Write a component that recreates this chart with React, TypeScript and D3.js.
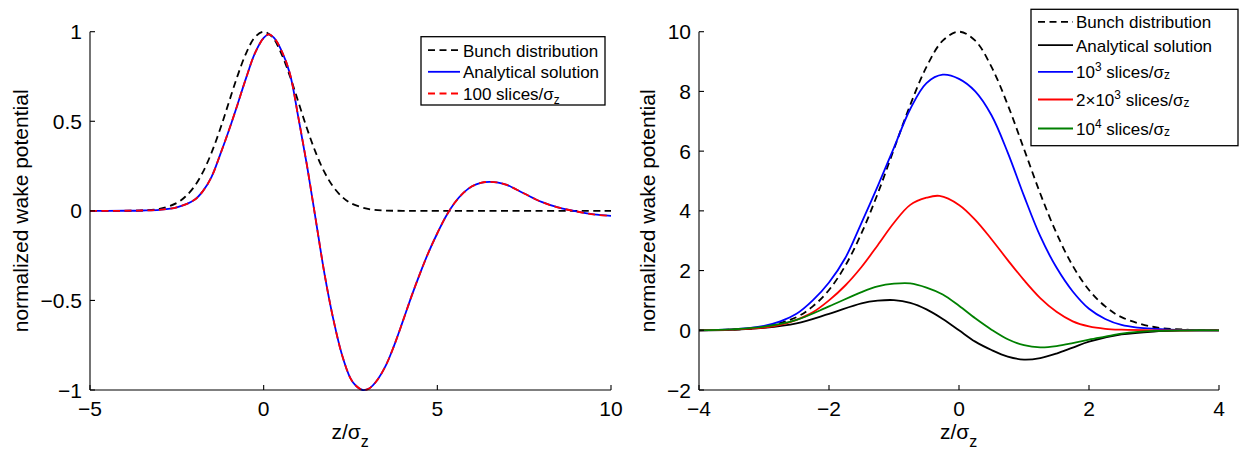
import React from "react";
import * as d3 from "d3";

const FONT = "'Liberation Sans', Arial, Helvetica, sans-serif";

type Pt = [number, number];

// ---- left panel: z/sigma_z from -5 to 10 ----
const leftBunch: Pt[] = [
  [-5, 0], [-4.5, 0], [-4, 0.0003], [-3.5, 0.002], [-3, 0.011], [-2.5, 0.044],
  [-2.25, 0.08], [-2, 0.135], [-1.75, 0.216], [-1.5, 0.325], [-1.25, 0.458],
  [-1, 0.607], [-0.75, 0.755], [-0.5, 0.882], [-0.25, 0.97], [0, 1],
  [0.25, 0.97], [0.5, 0.882], [0.75, 0.755], [1, 0.607], [1.25, 0.458],
  [1.5, 0.325], [1.75, 0.216], [2, 0.135], [2.25, 0.08], [2.5, 0.044],
  [3, 0.011], [3.5, 0.002], [4, 0.0003], [4.5, 0], [10, 0],
];

const leftAnalytical: Pt[] = [
  [-5, 0], [-4.5, 0], [-4, 0.0005], [-3.5, 0.002], [-3, 0.006], [-2.5, 0.02],
  [-2, 0.06], [-1.75, 0.11], [-1.5, 0.19], [-1.25, 0.315], [-1, 0.45],
  [-0.75, 0.595], [-0.5, 0.745], [-0.25, 0.88], [0, 0.965], [0.15, 0.985],
  [0.3, 0.965], [0.5, 0.9], [0.75, 0.77], [1, 0.52], [1.25, 0.25],
  [1.5, -0.05], [1.75, -0.35], [2, -0.6], [2.25, -0.8], [2.5, -0.935],
  [2.65, -0.975], [2.85, -1.0], [3.05, -0.99], [3.25, -0.95], [3.5, -0.87],
  [3.75, -0.755], [4, -0.62], [4.25, -0.48], [4.5, -0.35], [4.75, -0.23],
  [5, -0.125], [5.25, -0.03], [5.5, 0.045], [5.75, 0.1], [6, 0.137],
  [6.25, 0.156], [6.5, 0.162], [6.75, 0.158], [7, 0.145], [7.5, 0.097],
  [8, 0.05], [8.5, 0.018], [9, -0.003], [9.5, -0.02], [10, -0.028],
];

const leftSlices100: Pt[] = [
  [-5, 0], [-4.5, 0], [-4, 0.0005], [-3.5, 0.002], [-3, 0.006], [-2.5, 0.02],
  [-2, 0.06], [-1.75, 0.11], [-1.5, 0.19], [-1.25, 0.315], [-1, 0.45],
  [-0.75, 0.595], [-0.5, 0.745], [-0.25, 0.88], [0, 0.965], [0.15, 0.985],
  [0.3, 0.965], [0.5, 0.9], [0.75, 0.77], [1, 0.52], [1.25, 0.25],
  [1.5, -0.05], [1.75, -0.35], [2, -0.6], [2.25, -0.8], [2.5, -0.935],
  [2.65, -0.975], [2.85, -1.0], [3.05, -0.99], [3.25, -0.95], [3.5, -0.87],
  [3.75, -0.755], [4, -0.62], [4.25, -0.48], [4.5, -0.35], [4.75, -0.23],
  [5, -0.125], [5.25, -0.03], [5.5, 0.045], [5.75, 0.1], [6, 0.137],
  [6.25, 0.156], [6.5, 0.162], [6.75, 0.158], [7, 0.145], [7.5, 0.097],
  [8, 0.05], [8.5, 0.018], [9, -0.003], [9.5, -0.02], [10, -0.028],
];

// ---- right panel: z/sigma_z from -4 to 4 ----
const rightBunch: Pt[] = [
  [-4, 0.003], [-3.5, 0.022], [-3, 0.11], [-2.5, 0.44], [-2.25, 0.8],
  [-2, 1.35], [-1.75, 2.16], [-1.5, 3.25], [-1.25, 4.58], [-1, 6.07],
  [-0.75, 7.55], [-0.5, 8.82], [-0.25, 9.7], [0, 10], [0.25, 9.7],
  [0.5, 8.82], [0.75, 7.55], [1, 6.07], [1.25, 4.58], [1.5, 3.25],
  [1.75, 2.16], [2, 1.35], [2.25, 0.8], [2.5, 0.44], [3, 0.11],
  [3.5, 0.022], [4, 0.003],
];

const rightAnalytical: Pt[] = [
  [-4, 0], [-3.5, 0.015], [-3, 0.08], [-2.5, 0.23], [-2, 0.55], [-1.5, 0.9],
  [-1.25, 0.99], [-1, 1.01], [-0.75, 0.92], [-0.5, 0.7], [-0.25, 0.38],
  [0, 0.0], [0.25, -0.38], [0.5, -0.66], [0.75, -0.88], [1, -0.98],
  [1.25, -0.93], [1.5, -0.78], [1.75, -0.58], [2, -0.38], [2.5, -0.14],
  [3, -0.04], [3.5, -0.01], [4, 0],
];

const rightSlices1e3: Pt[] = [
  [-4, 0], [-3.5, 0.03], [-3, 0.15], [-2.75, 0.3], [-2.5, 0.55], [-2.25, 1.0],
  [-2, 1.6], [-1.75, 2.42], [-1.5, 3.6], [-1.25, 4.83], [-1, 6.12],
  [-0.75, 7.41], [-0.5, 8.28], [-0.25, 8.56], [0, 8.42], [0.25, 8.0],
  [0.5, 7.2], [0.75, 5.95], [1, 4.5], [1.25, 3.15], [1.5, 2.1], [1.75, 1.3],
  [2, 0.72], [2.25, 0.38], [2.5, 0.18], [2.75, 0.09], [3, 0.05], [3.5, 0.01], [4, 0],
];

const rightSlices2e3: Pt[] = [
  [-4, 0], [-3.5, 0.02], [-3, 0.09], [-2.75, 0.18], [-2.5, 0.35], [-2.25, 0.6],
  [-2, 1.0], [-1.75, 1.5], [-1.5, 2.12], [-1.25, 2.85], [-1, 3.6],
  [-0.75, 4.2], [-0.5, 4.44], [-0.3, 4.5], [0, 4.2], [0.25, 3.7], [0.5, 3.05],
  [0.75, 2.35], [1, 1.68], [1.25, 1.08], [1.5, 0.62], [1.75, 0.3], [2, 0.13],
  [2.25, 0.05], [2.5, 0.02], [3, 0], [4, 0],
];

const rightSlices1e4: Pt[] = [
  [-4, 0], [-3.5, 0.03], [-3, 0.12], [-2.5, 0.35], [-2, 0.8], [-1.5, 1.28],
  [-1.25, 1.47], [-1, 1.56], [-0.75, 1.57], [-0.5, 1.43], [-0.25, 1.2],
  [0, 0.82], [0.25, 0.4], [0.5, 0.02], [0.75, -0.3], [1, -0.5], [1.25, -0.57],
  [1.5, -0.53], [1.75, -0.43], [2, -0.31], [2.25, -0.21], [2.5, -0.11],
  [2.75, -0.05], [3, -0.02], [3.5, 0], [4, 0],
];

const leftXTicks = [-5, 0, 5, 10];
const leftYTicks = [-1, -0.5, 0, 0.5, 1];
const rightXTicks = [-4, -2, 0, 2, 4];
const rightYTicks = [-2, 0, 2, 4, 6, 8, 10];

type Part = { t: string; k?: "sup" | "sub" };

const bunchLabel: Part[] = [{ t: "Bunch distribution" }];
const analyticalLabel: Part[] = [{ t: "Analytical solution" }];
const slices100Label: Part[] = [{ t: "100 slices/σ" }, { t: "z", k: "sub" }];
const slices1e3Label: Part[] = [{ t: "10" }, { t: "3", k: "sup" }, { t: " slices/σ" }, { t: "z", k: "sub" }];
const slices2e3Label: Part[] = [{ t: "2×10" }, { t: "3", k: "sup" }, { t: " slices/σ" }, { t: "z", k: "sub" }];
const slices1e4Label: Part[] = [{ t: "10" }, { t: "4", k: "sup" }, { t: " slices/σ" }, { t: "z", k: "sub" }];

type Series = { data: Pt[]; color: string; dash?: string; label: Part[] };

const DASH = "7,4.5";

const fmt = (d: number) => String(d).replace("-", "\u2212");

const RichText = ({ parts, x, y, size, subShift }: { parts: Part[]; x: number; y: number; size: number; subShift: number }) => {
  let shift = 0;
  return (
    <text x={x} y={y} fontSize={size} fontFamily={FONT} fill="#000">
      {parts.map((p, i) => {
        const target = p.k === "sup" ? -7 : p.k === "sub" ? subShift : 0;
        const dy = target - shift;
        shift = target;
        return (
          <tspan key={i} dy={dy} fontSize={p.k ? size * 0.7 : size}>
            {p.t}
          </tspan>
        );
      })}
    </text>
  );
};

type PanelProps = {
  xDomain: [number, number];
  yDomain: [number, number];
  xRange: [number, number];
  yRange: [number, number];
  xTicks: number[];
  yTicks: number[];
  series: Series[];
  legend: { x0: number; x1: number; y0: number; y1: number; baselines: number[]; sub: number; lineLen: number };
  yLabelX: number;
};

const Panel = ({ xDomain, yDomain, xRange, yRange, xTicks, yTicks, series, legend, yLabelX }: PanelProps) => {
  const x = d3.scaleLinear().domain(xDomain).range(xRange);
  const y = d3.scaleLinear().domain(yDomain).range(yRange);
  const line = d3
    .line<Pt>()
    .x((d) => x(d[0]))
    .y((d) => y(d[1]))
    .curve(d3.curveCatmullRom.alpha(0.5));
  const [left, right] = xRange;
  const [bottom, top] = yRange;
  const midX = (left + right) / 2;
  const midY = (bottom + top) / 2;

  return (
    <g>
      {series.map((s, i) => (
        <path key={i} d={line(s.data) || ""} fill="none" stroke={s.color} strokeWidth={1.8} strokeDasharray={s.dash} />
      ))}
      {/* axes */}
      <line x1={left} x2={right} y1={bottom} y2={bottom} stroke="#000" strokeWidth={1.1} />
      <line x1={left} x2={left} y1={bottom} y2={top} stroke="#000" strokeWidth={1.1} />
      {xTicks.map((t) => (
        <g key={"x" + t}>
          <line x1={x(t)} x2={x(t)} y1={bottom} y2={bottom - 5} stroke="#000" strokeWidth={1.1} />
          <text x={x(t)} y={bottom + 26} textAnchor="middle" fontSize={21} fontFamily={FONT}>
            {fmt(t)}
          </text>
        </g>
      ))}
      {yTicks.map((t) => (
        <g key={"y" + t}>
          <line x1={left} x2={left + 5} y1={y(t)} y2={y(t)} stroke="#000" strokeWidth={1.1} />
          <text x={left - 8} y={y(t) + 7.5} textAnchor="end" fontSize={21} fontFamily={FONT}>
            {fmt(t)}
          </text>
        </g>
      ))}
      <text x={midX - 19} y={439} fontSize={21} fontFamily={FONT}>
        z/σ
        <tspan dy={8} fontSize={16}>z</tspan>
      </text>
      <text transform={`translate(${yLabelX},${midY}) rotate(-90)`} textAnchor="middle" fontSize={21} fontFamily={FONT}>
        normalized wake potential
      </text>
      {/* legend */}
      <rect
        x={legend.x0}
        y={legend.y0}
        width={legend.x1 - legend.x0}
        height={legend.y1 - legend.y0}
        fill="#fff"
        stroke="#000"
        strokeWidth={1.3}
      />
      {series.map((s, i) => {
        const b = legend.baselines[i];
        return (
          <g key={"l" + i}>
            <line
              x1={legend.x0 + 7}
              x2={legend.x0 + 7 + legend.lineLen}
              y1={b - 6.5}
              y2={b - 6.5}
              stroke={s.color}
              strokeWidth={1.8}
              strokeDasharray={s.dash}
            />
            <RichText parts={s.label} x={legend.x0 + 10 + legend.lineLen} y={b} size={17} subShift={legend.sub} />
          </g>
        );
      })}
    </g>
  );
};

export default function App() {
  const leftSeries: Series[] = [
    { data: leftBunch, color: "#000", dash: DASH, label: bunchLabel },
    { data: leftAnalytical, color: "#0000ff", label: analyticalLabel },
    { data: leftSlices100, color: "#ff0000", dash: DASH, label: slices100Label },
  ];
  const rightSeries: Series[] = [
    { data: rightBunch, color: "#000", dash: DASH, label: bunchLabel },
    { data: rightAnalytical, color: "#000", label: analyticalLabel },
    { data: rightSlices1e3, color: "#0000ff", label: slices1e3Label },
    { data: rightSlices2e3, color: "#ff0000", label: slices2e3Label },
    { data: rightSlices1e4, color: "#008000", label: slices1e4Label },
  ];
  return (
    <svg width={1239} height={452} style={{ position: "absolute", left: 0, top: 0, background: "#fff" }}>
      <Panel
        xDomain={[-5, 10]}
        yDomain={[-1, 1]}
        xRange={[90, 611]}
        yRange={[390, 31.7]}
        xTicks={leftXTicks}
        yTicks={leftYTicks}
        series={leftSeries}
        legend={{ x0: 421, x1: 605, y0: 36.7, y1: 105, baselines: [56.7, 78.3, 100], sub: 4, lineLen: 32 }}
        yLabelX={28}
      />
      <Panel
        xDomain={[-4, 4]}
        yDomain={[-2, 10]}
        xRange={[699, 1219]}
        yRange={[390, 31.7]}
        xTicks={rightXTicks}
        yTicks={rightYTicks}
        series={rightSeries}
        legend={{ x0: 1031, x1: 1238, y0: 9.3, y1: 145.7, baselines: [28.3, 51.7, 78.3, 106, 135], sub: 1, lineLen: 35 }}
        yLabelX={655}
      />
    </svg>
  );
}
